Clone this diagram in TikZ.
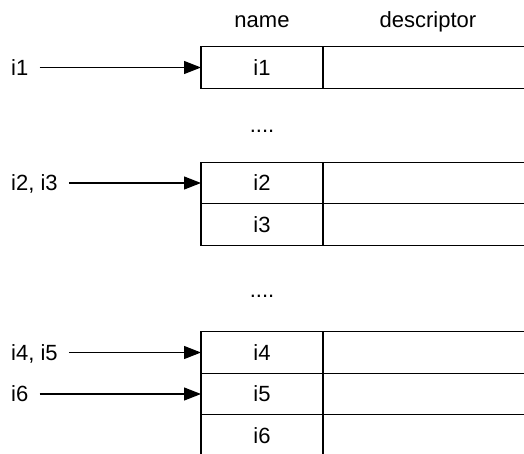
\documentclass[tikz,border=0pt]{standalone}
\usepackage{fontspec}
\setmainfont{Liberation Sans}
\usetikzlibrary{arrows.meta,positioning}

\begin{document}
\begin{tikzpicture}[>={Triangle[length=17pt,width=13pt]},x=1pt,y=-1pt,font=\fontsize{22}{26}\selectfont]
\clip (0,0) rectangle (524,453);
\tikzset{cell/.style={draw,line width=1.3pt,minimum height=41.5pt,inner sep=0,outer sep=0},
  namecell/.style={cell,minimum width=122pt},
  desccell/.style={cell,minimum width=230pt,anchor=west},
  lbl/.style={anchor=west,inner xsep=11pt,inner ysep=0pt,text depth=0pt}}
% table rows
\foreach \n/\y in {1/67.5,2/183,3/224.5,4/352.5,5/394,6/435.5}{
  \node[namecell] (N\n) at (262,\y) {i\n};
  \node[desccell] (D\n) at (N\n.east) {};
}
\node[anchor=base] (hname) at (262,27) {name};
\node[anchor=base] (hdesc) at (428,27) {descriptor};
\node (dots1) at (262,131) {....};
\node (dots2) at (262,296) {....};
% pointers
\node[lbl] (L1) at (0,67.5) {i1};
\node[lbl] (L23) at (0,183) {i2, i3};
\node[lbl] (L45) at (0,352.5) {i4, i5};
\node[lbl] (L6) at (0,394) {i6};
\draw[->,line width=1.2pt] (L1.east) -- (N1.west);
\draw[->,line width=1.2pt] (L23.east) -- (N2.west);
\draw[->,line width=1.2pt] (L45.east) -- (N4.west);
\draw[->,line width=1.2pt] (L6.east) -- (N5.west);
\end{tikzpicture}
\end{document}
